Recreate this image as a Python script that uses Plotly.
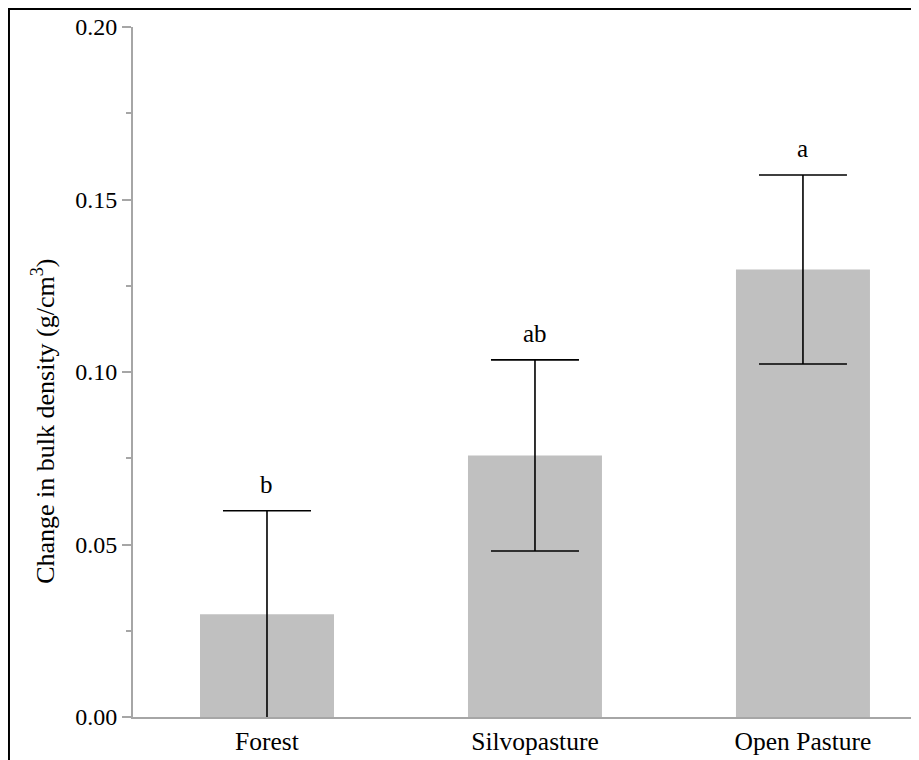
import plotly.graph_objects as go

categories = ["Forest", "Silvopasture", "Open Pasture"]
means = [0.0298, 0.0758, 0.1297]
errors = [0.0300, 0.0277, 0.0274]
letters = ["b", "ab", "a"]
y_ticks = [0.00, 0.05, 0.10, 0.15, 0.20]

FONT = "Times New Roman, Liberation Serif, DejaVu Serif, serif"
AXIS_GRAY = "#a6a6a6"

xpos = list(range(len(categories)))

fig = go.Figure()
fig.add_trace(go.Bar(
    x=xpos, y=means, width=0.5,
    marker=dict(color="#c0c0c0", line=dict(width=0)),
    error_y=dict(type="data", array=errors, visible=True,
                 color="black", thickness=1.6, width=44),
    showlegend=False,
))

for xi, m, e, lab in zip(xpos, means, errors, letters):
    fig.add_annotation(x=xi, y=m + e, text=lab, showarrow=False,
                       yanchor="bottom", yshift=11,
                       font=dict(family=FONT, size=25, color="black"))

fig.add_annotation(text="Change in bulk density (g/cm<sup>3</sup>)",
                   xref="paper", yref="paper", x=-0.113, y=0.428,
                   textangle=-90, showarrow=False,
                   xanchor="center", yanchor="middle",
                   font=dict(family=FONT, size=26, color="black"))

# figure border
fig.add_shape(type="rect", xref="paper", yref="paper",
              x0=-0.1578, x1=1.05, y0=-0.09, y1=1.026,
              line=dict(color="black", width=2), layer="above")

fig.update_layout(
    width=911, height=752,
    margin=dict(l=125, r=0, t=19, b=43),
    paper_bgcolor="white", plot_bgcolor="white",
    font=dict(family=FONT, size=24, color="black"),
    bargap=0.5,
    xaxis=dict(range=[-0.5, 2.433], tickvals=xpos, ticktext=categories,
               showline=True, linecolor=AXIS_GRAY, linewidth=2,
               ticks="", showgrid=False, zeroline=False,
               tickfont=dict(family=FONT, size=25.5, color="black")),
    yaxis=dict(range=[0, 0.2], tickvals=y_ticks, tickformat=".2f",
               showline=True, linecolor=AXIS_GRAY, linewidth=2,
               ticks="outside", ticklen=9, tickwidth=2, tickcolor=AXIS_GRAY,
               minor=dict(ticks="outside", ticklen=5, dtick=0.025,
                          tickcolor=AXIS_GRAY, tickwidth=2, showgrid=False),
               showgrid=False, zeroline=False,
               tickfont=dict(family=FONT, size=24, color="black")),
)

fig.write_html("out.html")
